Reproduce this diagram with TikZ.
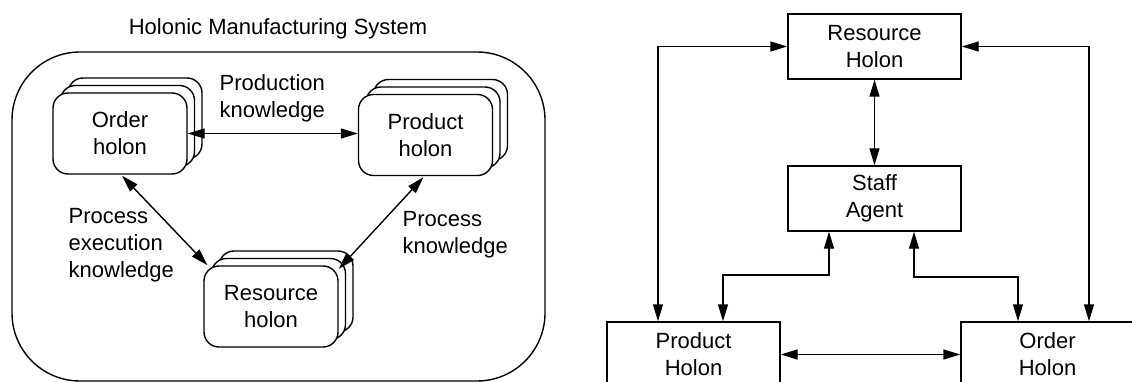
\documentclass[tikz,border=0pt]{standalone}
\usepackage{fontspec}
\setmainfont{Liberation Sans}
\usetikzlibrary{arrows.meta,shadows,calc}
\begin{document}
\begin{tikzpicture}[x=1pt,y=-1pt, line width=1.4pt,
  font=\fontsize{22}{27}\selectfont,
  holon/.style={draw, fill=white, rounded corners=15pt, minimum width=134pt,
    minimum height=81pt, align=center, inner sep=0pt,
    copy shadow={shadow xshift=15pt, shadow yshift=15pt},
    copy shadow={shadow xshift=7.5pt, shadow yshift=7.5pt}},
  box/.style={draw, fill=white, minimum width=173pt, minimum height=65pt,
    align=center, inner sep=0pt},
  arr/.style={{Triangle[length=17pt,width=10pt]}-{Triangle[length=17pt,width=10pt]}},
  lbl/.style={align=left, inner sep=0pt, anchor=west}]
\path[use as bounding box] (0,0) rectangle (1132,382);
\clip (0,0) rectangle (1132,382);

% ---------- left figure ----------
\node[inner sep=0pt] (title) at (278,29) {Holonic Manufacturing System};
\node[draw, rounded corners=68pt, minimum width=533pt, minimum height=329pt]
  (hms) at (278.5,216.5) {};

\node[holon] (order) at (120,133.5) {Order\\holon};
\node[holon] (product) at (425.5,135) {Product\\holon};
\node[holon] (resource) at (271,306.5) {Resource\\holon};

\draw[arr] (order.east) -- (order.east -| product.west);
\draw[arr] ($(order.south)+(2,1)$) -- (resource.147);
\draw[arr] ($(product.south)+(-2,1)$) -- (resource.29);

\node[lbl] (l1) at (219,98.5) {Production\\knowledge};
\node[lbl] (l2) at (68,245) {Process\\execution\\knowledge};
\node[lbl] (l3) at (402,235) {Process\\knowledge};

% ---------- right figure ----------
\node[box] (rh) at (874.5,46.5) {Resource\\Holon};
\node[box] (sa) at (874.5,198.5) {Staff\\Agent};
\node[box] (ph) at (693.5,354.5) {Product\\Holon};
\node[box] (oh) at (1047.5,354.5) {Order\\Holon};

\coordinate (L) at (658,47);
\coordinate (R) at (1089,47);
\coordinate (A) at (829,275);
\coordinate (B) at (723,275);
\coordinate (C) at (914,277);
\coordinate (D) at (1018,277);

\draw[arr] (rh.west) -| (L |- ph.north);
\draw[arr] (rh.east) -| (R |- oh.north);
\draw[arr] (rh.south) -- (sa.north);
\draw[arr] (sa.south -| A) -- (A) -- (B) -- (B |- ph.north);
\draw[arr] (sa.south -| C) -- (C) -- (D) -- (D |- oh.north);
\draw[arr] (ph.east) -- (oh.west);
\end{tikzpicture}
\end{document}
